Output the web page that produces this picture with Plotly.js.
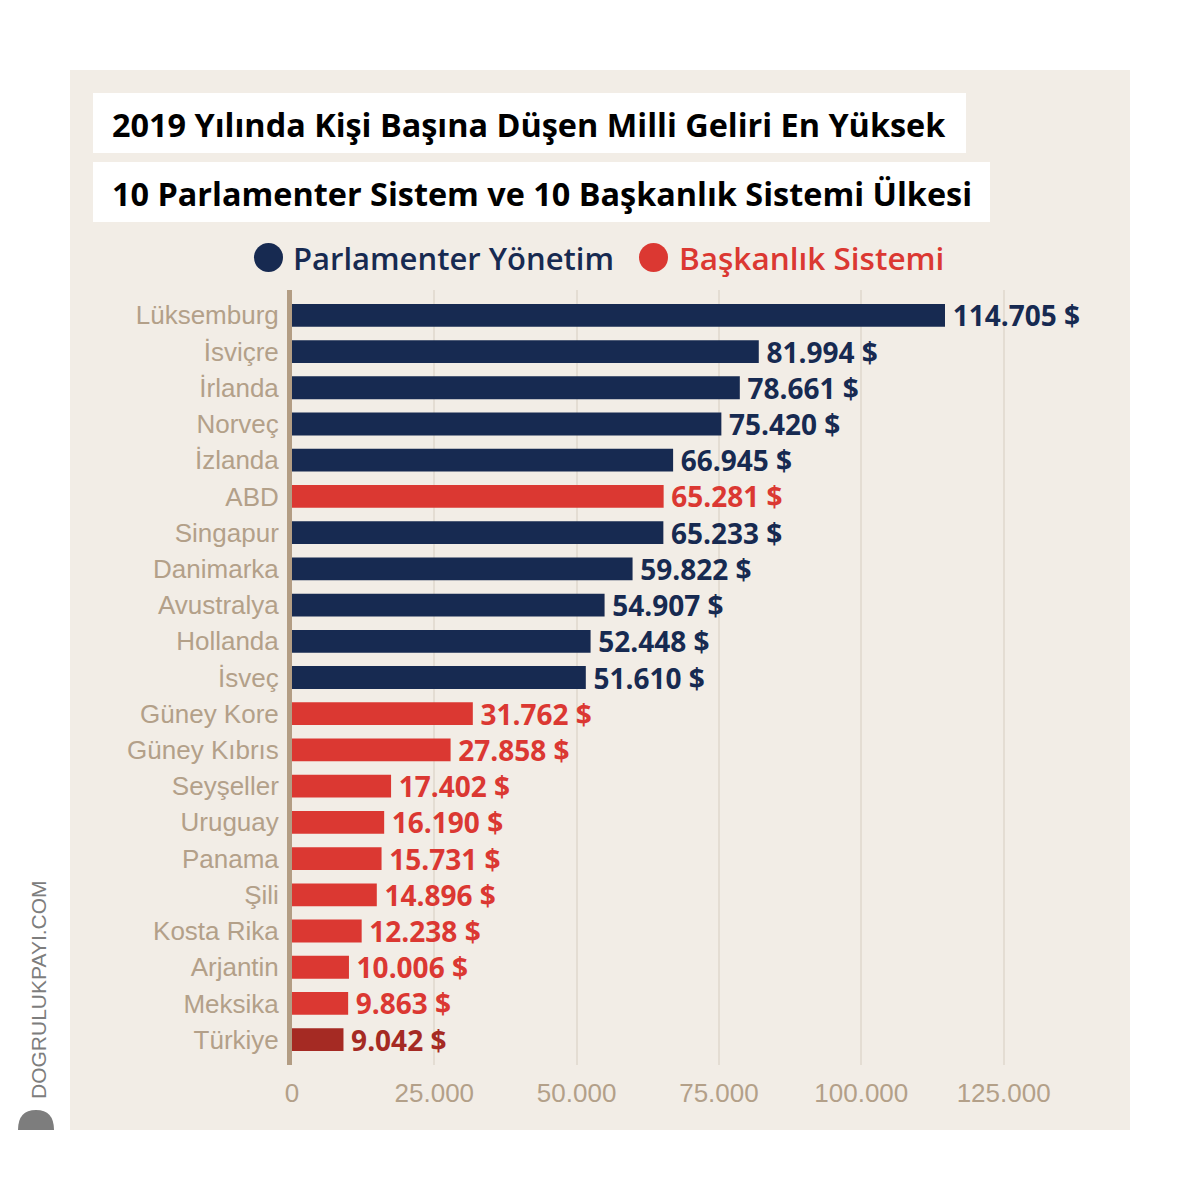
<!DOCTYPE html>
<html><head><meta charset="utf-8">
<script src="https://cdn.plot.ly/plotly-3.0.1.min.js"></script>
<style>html,body{margin:0;padding:0;background:#fff}</style>
</head><body>
<div id="chart" style="width:1200px;height:1200px"></div>
<script>
const countries = ["Lüksemburg","İsviçre","İrlanda","Norveç","İzlanda","ABD","Singapur","Danimarka","Avustralya","Hollanda","İsveç","Güney Kore","Güney Kıbrıs","Seyşeller","Uruguay","Panama","Şili","Kosta Rika","Arjantin","Meksika","Türkiye"];
const values = [114705,81994,78661,75420,66945,65281,65233,59822,54907,52448,51610,31762,27858,17402,16190,15731,14896,12238,10006,9863,9042];
const systems = ["P","P","P","P","P","B","P","P","P","P","P","B","B","B","B","B","B","B","B","B","T"];
const labels = ["114.705 $","81.994 $","78.661 $","75.420 $","66.945 $","65.281 $","65.233 $","59.822 $","54.907 $","52.448 $","51.610 $","31.762 $","27.858 $","17.402 $","16.190 $","15.731 $","14.896 $","12.238 $","10.006 $","9.863 $","9.042 $"];
const tickVals = [0,25000,50000,75000,100000,125000];
const tickText = ["0","25.000","50.000","75.000","100.000","125.000"];
const titleLines = ["2019 Yılında Kişi Başına Düşen Milli Geliri En Yüksek","10 Parlamenter Sistem ve 10 Başkanlık Sistemi Ülkesi"];
const legendNames = ["Parlamenter Yönetim","Başkanlık Sistemi"];

const colorMap = {P:"#172a51", B:"#db3832", T:"#a52a23"};
const colors = systems.map(s => colorMap[s]);

const px = v => v/1200;
const py = v => 1 - v/1200;

const trace = {
  type:"bar", orientation:"h",
  x: values, y: countries,
  marker:{color: colors, line:{width:0}},
  width:0.63,
  text: labels.map(t => "\u2009" + t), textposition:"outside", cliponaxis:false,
  constraintext:"none",
  textfont:{family:"Open Sans, sans-serif", size:28, color: colors, weight:700},
  hoverinfo:"skip"
};

const shapes = [
  {type:"rect", xref:"paper", yref:"paper", x0:px(70), x1:px(1130), y0:py(1130), y1:py(70), fillcolor:"#f2ede6", line:{width:0}, layer:"below"},
  {type:"rect", xref:"paper", yref:"paper", x0:px(93), x1:px(966), y0:py(153), y1:py(93), fillcolor:"#ffffff", line:{width:0}, layer:"below"},
  {type:"rect", xref:"paper", yref:"paper", x0:px(93), x1:px(990), y0:py(222), y1:py(162), fillcolor:"#ffffff", line:{width:0}, layer:"below"},
  {type:"circle", xref:"paper", yref:"paper", x0:px(254), x1:px(283), y0:py(272), y1:py(243), fillcolor:colorMap.P, line:{width:0}},
  {type:"circle", xref:"paper", yref:"paper", x0:px(639), x1:px(668), y0:py(272), y1:py(243), fillcolor:colorMap.B, line:{width:0}},
  {type:"path", xref:"paper", yref:"paper", path:`M ${px(18)} ${py(1130)} Q ${px(18)} ${py(1110)} ${px(36)} ${py(1110)} Q ${px(54)} ${py(1110)} ${px(54)} ${py(1130)} Z`, fillcolor:"#7d7d7d", line:{width:0}}
];

const titleFont = {family:"Open Sans, sans-serif", size:32.4, color:"#000000", weight:700};
const annotations = [
  {xref:"paper", yref:"paper", x:px(110), y:py(124), xanchor:"left", yanchor:"middle", text:titleLines[0], showarrow:false, font:titleFont},
  {xref:"paper", yref:"paper", x:px(110), y:py(193), xanchor:"left", yanchor:"middle", text:titleLines[1], showarrow:false, font:titleFont},
  {xref:"paper", yref:"paper", x:px(291), y:py(258), xanchor:"left", yanchor:"middle", text:legendNames[0], showarrow:false, font:{family:"Open Sans, sans-serif", size:31, color:colorMap.P, weight:600}},
  {xref:"paper", yref:"paper", x:px(677), y:py(258), xanchor:"left", yanchor:"middle", text:legendNames[1], showarrow:false, font:{family:"Open Sans, sans-serif", size:31.5, color:colorMap.B, weight:600}},
  {xref:"paper", yref:"paper", x:px(38), y:py(990), xanchor:"center", yanchor:"middle", text:"DOGRULUKPAYI.COM", textangle:-90, showarrow:false, font:{family:"Liberation Sans, Arial, sans-serif", size:21, color:"#7d7d7d"}}
];

const layout = {
  width:1200, height:1200,
  margin:{l:0,r:0,t:0,b:0},
  paper_bgcolor:"#ffffff",
  plot_bgcolor:"#f2ede6",
  showlegend:false,
  bargap:0.37,
  xaxis:{
    domain:[px(292), px(1089)],
    range:[0,140000],
    tickvals:tickVals, ticktext:tickText,
    showgrid:true, gridcolor:"#e4ddd3", gridwidth:2,
    zeroline:false, showline:false,
    ticks:"outside", ticklen:5, tickcolor:"rgba(0,0,0,0)",
    tickfont:{family:"Liberation Sans, Arial, sans-serif", size:26, color:"#b3a089"},
    fixedrange:true
  },
  yaxis:{
    domain:[py(1065), py(290)],
    type:"category",
    categoryorder:"array", categoryarray:countries,
    range:[20.7,-0.7],
    showgrid:false, zeroline:false,
    showline:true, linecolor:"#b39d84", linewidth:5,
    ticks:"outside", ticklen:3, tickcolor:"rgba(0,0,0,0)",
    tickfont:{family:"Liberation Sans, Arial, sans-serif", size:26, color:"#b3a089"},
    fixedrange:true
  },
  shapes:shapes,
  annotations:annotations
};

Plotly.newPlot("chart",[trace],layout,{displayModeBar:false, staticPlot:true});
</script>
</body></html>
